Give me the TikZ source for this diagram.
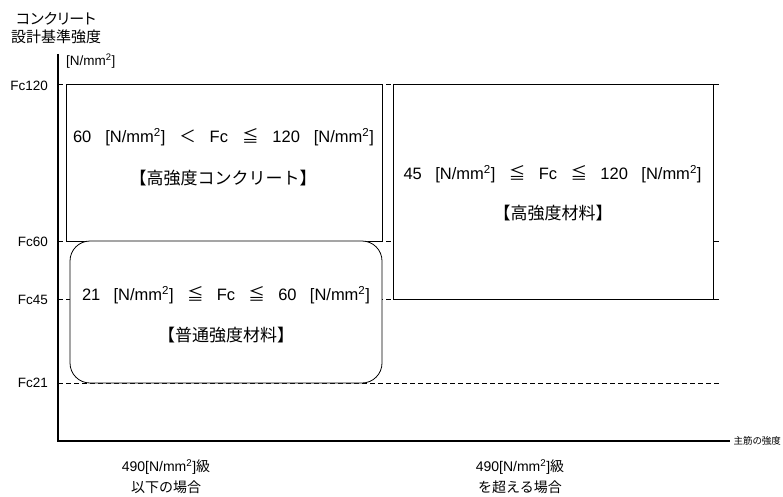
\documentclass[tikz,border=0pt]{standalone}
\usepackage{fontspec}
\setmainfont{Liberation Sans}
\newfontfamily\jp{Noto Sans CJK JP}
\newfontfamily\jpp{Noto Sans CJK JP}[RawFeature=+palt]
\newcommand{\sqmm}{[N/mm\textsuperscript{2}]}
\begin{document}
\begin{tikzpicture}[x=1pt,y=-1pt,
  axisline/.style={line width=2.4pt},
  levelline/.style={line width=0.7pt,dash pattern=on 5pt off 3pt},
  zonebox/.style={draw,line width=0.8pt,inner sep=0pt},
  fclabel/.style={anchor=east,font=\fontsize{13.5}{14}\selectfont,inner sep=0pt},
  boxtext/.style={font=\fontsize{16.5}{18}\selectfont,inner sep=0pt},
  boxjp/.style={font=\fontsize{17}{19}\jp\selectfont,inner sep=0pt},
  axlabel/.style={font=\fontsize{14}{16}\selectfont,inner sep=0pt,align=center},
  axlabeljp/.style={font=\fontsize{14}{16}\jp\selectfont,inner sep=0pt,align=center}]
\useasboundingbox (0,0) rectangle (783,497);
% axis titles
\node[font=\fontsize{15}{18}\jpp\selectfont,inner sep=0pt] (yt1) at (56,19) {コンクリート};
\node[font=\fontsize{15}{18}\jp\selectfont,inner sep=0pt] (yt2) at (56,37) {設計基準強度};
\node[font=\fontsize{13.5}{15}\selectfont,inner sep=0pt,anchor=west] (yunit) at (66,61) {\sqmm};
\node[font=\fontsize{9.5}{11}\jpp\selectfont,inner sep=0pt,anchor=east] (xt) at (781,441) {主筋の強度};
% axes
\coordinate (O) at (58,441);
\coordinate (ytop) at (58,54);
\coordinate (xend) at ([xshift=-3pt]xt.west);
% level lines
\coordinate (l120a) at (58,84);  \coordinate (l120b) at (720,84);
\coordinate (l60a) at (58,241);  \coordinate (l60b) at (720,241);
\coordinate (l45a) at (58,299);  \coordinate (l45b) at (720,299);
\coordinate (l21a) at (58,383);  \coordinate (l21b) at (720,383);
\draw[levelline] (l120a) -- (l120b);
\draw[levelline] (l60a) -- (l60b);
\draw[levelline] (l45a) -- (l45b);
\draw[levelline] (l21a) -- (l21b);
% boxes
\node[zonebox,fill=white,minimum width=316pt,minimum height=157pt] (hc) at (224,162.5) {};
\node[zonebox,fill=white,minimum width=320pt,minimum height=215pt] (hm) at (553,191.5) {};
\node[zonebox,fill=white,rounded corners=20pt,minimum width=312pt,minimum height=142pt] (nm) at (226,312) {};
\draw[axisline] (ytop) -- (O) -- (xend);
% box texts
\node[boxtext] (hc1) at (223.5,137) {\makebox[301pt][s]{60 \sqmm\ {\jp ＜} Fc {\jp ≦} 120 \sqmm}};
\node[boxjp] (hc2) at (223,178) {【高強度コンクリート】};
\node[boxtext] (hm1) at (552.5,174) {\makebox[298pt][s]{45 \sqmm\ {\jp ≦} Fc {\jp ≦} 120 \sqmm}};
\node[boxjp] (hm2) at (553,213) {【高強度材料】};
\node[boxtext] (nm1) at (226,295) {\makebox[288pt][s]{21 \sqmm\ {\jp ≦} Fc {\jp ≦} 60 \sqmm}};
\node[boxjp] (nm2) at (226,335) {【普通強度材料】};
% level labels
\node[fclabel] (f120) at (48,86) {Fc120};
\node[fclabel] (f60) at (48,242) {Fc60};
\node[fclabel] (f45) at (48,300) {Fc45};
\node[fclabel] (f21) at (48,383) {Fc21};
% bottom labels
\node[axlabel] (b1a) at (166,467) {490[N/mm\textsuperscript{2}]{\jp 級}};
\node[axlabeljp] (b1b) at (166,487) {以下の場合};
\node[axlabel] (b2a) at (520,467) {490[N/mm\textsuperscript{2}]{\jp 級}};
\node[axlabeljp] (b2b) at (520,487) {を超える場合};
\end{tikzpicture}
\end{document}
